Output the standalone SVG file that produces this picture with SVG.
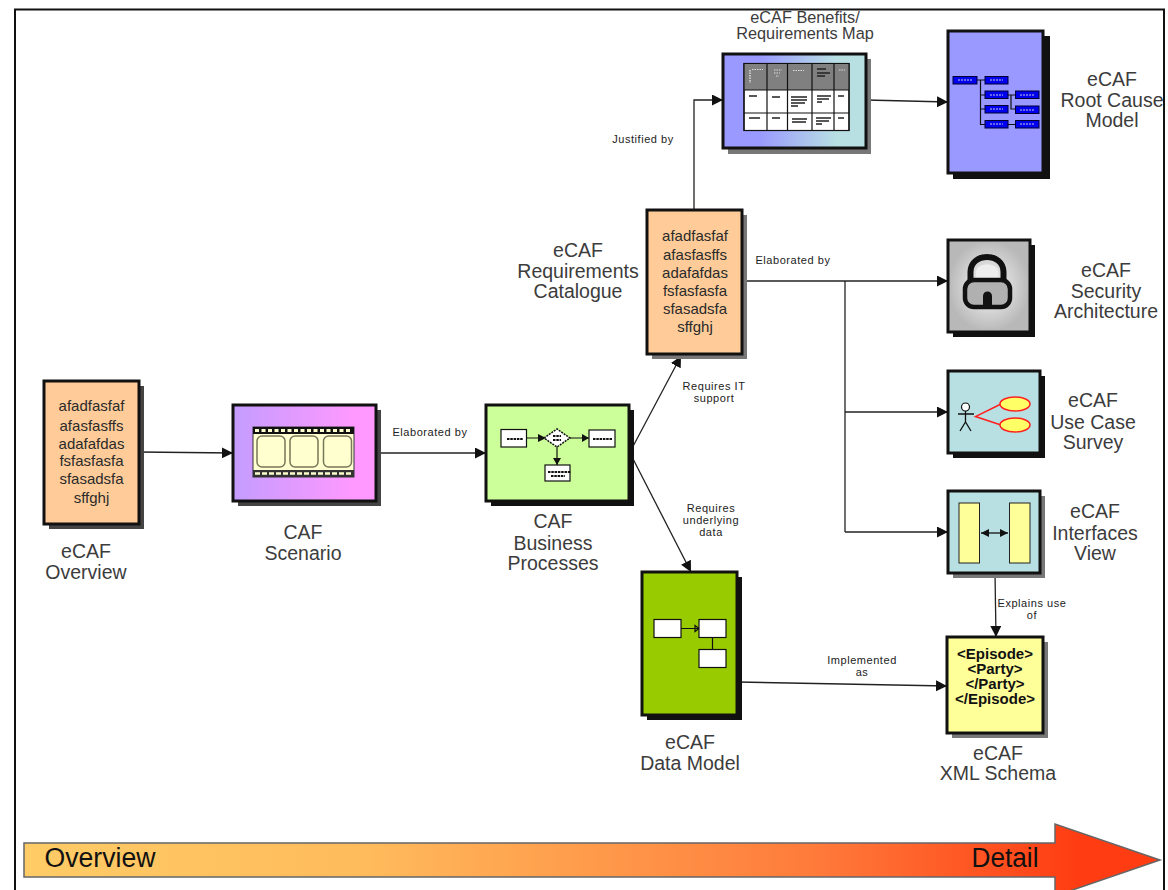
<svg xmlns="http://www.w3.org/2000/svg" width="1168" height="890" viewBox="0 0 1168 890">
<style>
text{font-family:"Liberation Sans",Arial,sans-serif;text-anchor:middle}
.big{font-size:19.5px;fill:#3c3c3c}
.sub{font-size:16.3px;fill:#3c3c3c}
.sm{font-size:11px;fill:#222;letter-spacing:.55px}
.nt{font-size:15px;fill:#2a2a2a}
.xml{font-size:15px;font-weight:bold;fill:#111}
.box{stroke:#111;stroke-width:3}
.sd{fill:#111}.sg{fill:#777}.sm2{fill:#444}
.c{fill:none;stroke:#222;stroke-width:1.3}
.ca{fill:none;stroke:#222;stroke-width:1.3;marker-end:url(#ah)}
.w{fill:#fff;stroke:#111;stroke-width:1.2}
.bb{fill:#0000ee;stroke:#000033;stroke-width:1}
.bl{fill:none;stroke:#111;stroke-width:1.2}
.film{fill:#ffffd0;stroke:#77775a;stroke-width:1.5}
.uc{fill:#ffff66;stroke:#ff2020;stroke-width:1.5}
</style>
<defs>
<marker id="ah" markerUnits="userSpaceOnUse" markerWidth="12" markerHeight="12" refX="11" refY="5.5" orient="auto"><path d="M0 0L11 5.5L0 11Z" fill="#111"/></marker>
<marker id="ah2" markerUnits="userSpaceOnUse" markerWidth="10" markerHeight="10" refX="8" refY="4" orient="auto-start-reverse"><path d="M0 0L8 4L0 8Z" fill="#111"/></marker>
<linearGradient id="gb"><stop offset="0.25" stop-color="#9999ff"/><stop offset="0.8" stop-color="#b8e0e3"/></linearGradient>
<linearGradient id="gs"><stop offset="0" stop-color="#c49cff"/><stop offset="0.85" stop-color="#ff99ff"/></linearGradient>
<radialGradient id="gl"><stop offset="0" stop-color="#fafafa"/><stop offset="1" stop-color="#b8b8b8"/></radialGradient>
<linearGradient id="ga"><stop offset="0" stop-color="#ffcc66"/><stop offset="0.3" stop-color="#ffbb5c"/><stop offset="0.7" stop-color="#ff7a3a"/><stop offset="0.93" stop-color="#ff3c12"/></linearGradient>
</defs>
<rect width="1168" height="890" fill="#fff"/>
<path d="M15 890V9.500H1164V890" fill="none" stroke="#111" stroke-width="2"/>

<g id="connectors">
<path class="ca" d="M139 452L233 453"/>
<path class="ca" d="M376 453H486"/>
<path class="ca" d="M630 452L681 356"/>
<path class="ca" d="M630 453L691 572"/>
<path class="ca" d="M694 210V100H723"/>
<path class="ca" d="M866 100L948 102"/>
<path class="ca" d="M742 281H948"/>
<path class="c" d="M845 281V532"/>
<path class="ca" d="M845 412H948"/>
<path class="ca" d="M845 532H948"/>
<path class="ca" d="M995 573L996 637"/>
<path class="ca" d="M737 682L947 686"/>
<text class="sm" x="430" y="436">Elaborated by</text>
<text class="sm" x="643" y="143">Justified by</text>
<text class="sm" x="793" y="264">Elaborated by</text>
<text class="sm" x="714" y="390">Requires IT</text>
<text class="sm" x="714" y="402">support</text>
<text class="sm" x="711" y="512">Requires</text>
<text class="sm" x="711" y="524">underlying</text>
<text class="sm" x="711" y="536">data</text>
<text class="sm" x="862" y="664">Implemented</text>
<text class="sm" x="862" y="676">as</text>
<text class="sm" x="1032" y="607">Explains use</text>
<text class="sm" x="1032" y="619">of</text>
</g>

<g id="overview">
<rect class="sm2" x="49" y="386" width="95" height="143"/>
<rect class="box" x="44" y="381" width="95" height="143" fill="#ffcc99"/>
<text class="nt" x="91.500" y="411">afadfasfaf</text><text class="nt" x="91.500" y="431">afasfasffs</text><text class="nt" x="91.500" y="449">adafafdas</text><text class="nt" x="91.500" y="466">fsfasfasfa</text><text class="nt" x="91.500" y="484">sfasadsfa</text><text class="nt" x="91.500" y="503">sffghj</text>
<text class="big" x="86" y="558">eCAF</text><text class="big" x="86" y="579">Overview</text>
</g>

<g id="scenario">
<rect class="sm2" x="238" y="410" width="143" height="96"/>
<rect class="box" x="233" y="405" width="143" height="96" fill="url(#gs)"/>
<rect x="253" y="427" width="101" height="50" fill="#ffffd0" stroke="#333"/>
<rect x="253" y="427" width="101" height="7" fill="#111"/>
<path d="M255 430.500H352" stroke="#ffffd0" stroke-width="3" stroke-dasharray="4 2.500" fill="none"/>
<rect x="253" y="470" width="101" height="7" fill="#333"/>
<path d="M255 473.500H352" stroke="#ffffd0" stroke-width="2.500" stroke-dasharray="5 2" fill="none"/>
<rect class="film" x="257" y="436" width="28" height="31" rx="5"/>
<rect class="film" x="290" y="436" width="28" height="31" rx="5"/>
<rect class="film" x="323.500" y="436" width="28" height="31" rx="5"/>
<text class="big" x="303" y="539">CAF</text><text class="big" x="303" y="560">Scenario</text>
</g>

<g id="business-processes">
<rect class="sd" x="491" y="410" width="143" height="96"/>
<rect class="box" x="486" y="405" width="143" height="96" fill="#ccff99"/>
<path class="bl" d="M526 438H546M568 438H589M557 447V465" stroke-width="1.500"/>
<path d="M546 438l-8-4v8zM589 438l-7-4v8zM557 465l-4-7h8z" fill="#111"/>
<rect class="w" x="501" y="429.500" width="25.500" height="17.500"/>
<path d="M544 438L557 429L570 438L557 447Z" fill="#fff" stroke="#111" stroke-width="1.500" stroke-dasharray="2 1"/>
<rect class="w" x="589" y="430" width="26" height="17"/>
<rect class="w" x="545" y="465" width="25" height="16"/>
<path d="M507 439H523M593 439H612M548 472H571M551 476H565M553 436H561M553 440H561" stroke="#111" stroke-width="2" stroke-dasharray="2.500 .8"/>
<text class="big" x="553" y="528">CAF</text><text class="big" x="553" y="550">Business</text><text class="big" x="553" y="570">Processes</text>
</g>

<g id="requirements-catalogue">
<rect class="sg" x="652" y="215" width="95" height="144"/>
<rect class="box" x="647" y="210" width="95" height="144" fill="#ffcc99"/>
<text class="nt" x="695" y="241">afadfasfaf</text><text class="nt" x="695" y="260">afasfasffs</text><text class="nt" x="695" y="278">adafafdas</text><text class="nt" x="695" y="296">fsfasfasfa</text><text class="nt" x="695" y="314">sfasadsfa</text><text class="nt" x="695" y="332">sffghj</text>
<text class="big" x="578" y="257">eCAF</text><text class="big" x="578" y="278">Requirements</text><text class="big" x="578" y="298">Catalogue</text>
</g>

<g id="benefits-map">
<rect class="sg" x="728" y="59" width="143" height="95"/>
<rect class="box" x="723" y="54" width="143" height="94" fill="url(#gb)"/>
<rect x="744" y="63.500" width="105" height="67" fill="#fff" stroke="#111" stroke-width="1.200"/>
<rect x="744" y="63.500" width="105" height="26.500" fill="#808080"/>
<path class="bl" d="M744 63.500H849V130.500H744ZM744 90H849M744 113H849M767 63.500V130.500M787.500 63.500V130.500M812 63.500V130.500M834 63.500V130.500"/>
<path d="M750 70V83" stroke="#ddd" stroke-width="1.500" stroke-dasharray="1.500 1" fill="none"/>
<path d="M752 69.500H763M774 70H782M774 73H780M776 76H779M793 70.500H804M839 70H845" stroke="#ddd" stroke-width="1" stroke-dasharray="1.500 1" fill="none"/>
<path d="M817 69H826M817 73H830M817 76H825M749 96H757M772 97H780M791 97H807M791 100H807M791 103H805M791 106H798M817 96H831M817 99H829M817 102H822M838 96H844M749 118H760M772 118H780M792 119H807M792 122H806M816 118H831M816 121H829M816 124H822M838 118H844" stroke="#222" stroke-width="1.300" fill="none"/>
<text class="sub" x="805" y="23">eCAF Benefits/</text><text class="sub" x="805" y="39">Requirements Map</text>
</g>

<g id="root-cause">
<rect class="sd" x="953" y="36" width="97" height="143"/>
<rect class="box" x="948" y="31" width="95" height="142" fill="#9999ff"/>
<path class="bl" d="M977 80H985M980.500 80V124.500H985M980.500 95H985M980.500 109H985M1008 95H1015M1011 95V109H1015M1008 124.500H1015"/>
<rect class="bb" x="953" y="76.500" width="24" height="7.500"/><rect class="bb" x="985" y="76.500" width="23" height="7.500"/><rect class="bb" x="985" y="91" width="23" height="7.500"/><rect class="bb" x="985" y="105.500" width="23" height="7.500"/><rect class="bb" x="985" y="120.500" width="23" height="7.500"/><rect class="bb" x="1015.500" y="91" width="23.500" height="7.500"/><rect class="bb" x="1015.500" y="106" width="23.500" height="7.500"/><rect class="bb" x="1015.500" y="120.500" width="23.500" height="7.500"/>
<path d="M958 80H972M990 80H1003M990 95H1003M990 109H1003M990 124H1003M1020 95H1034M1020 110H1034M1020 124H1034" stroke="#ccd" stroke-width="1" stroke-dasharray="2 1" fill="none"/>
<text class="big" x="1112" y="86">eCAF</text><text class="big" x="1112" y="107">Root Cause</text><text class="big" x="1112" y="127">Model</text>
</g>

<g id="security">
<rect class="sd" x="953" y="245" width="82" height="92"/>
<rect class="box" x="948" y="240" width="82" height="92" fill="url(#gl)"/>
<path d="M970.500 281V272C970.500 252 1003.500 252 1003.500 272V281" fill="none" stroke="#111" stroke-width="6"/>
<path d="M976 281V272C976 262 998 262 998 272V281Z" fill="#eee"/>
<rect x="965" y="280" width="45" height="27" rx="9" fill="#b0b0b0" stroke="#111" stroke-width="4.500"/>
<path d="M983 305V296a4.500 4.500 0 0 1 9 0V305Z" fill="#111"/>
<text class="big" x="1106" y="277">eCAF</text><text class="big" x="1106" y="298">Security</text><text class="big" x="1106" y="318">Architecture</text>
</g>

<g id="use-case">
<rect class="sd" x="953" y="376" width="92" height="82"/>
<rect class="box" x="948" y="371" width="92" height="82" fill="#b8e0e3"/>
<path d="M1001 404L975.500 416.500L1001 425" fill="none" stroke="#ff2020" stroke-width="1.500"/>
<ellipse class="uc" cx="1015" cy="404" rx="15" ry="7"/><ellipse class="uc" cx="1015" cy="425" rx="15" ry="7"/>
<circle cx="965.500" cy="407" r="4" fill="#fff" stroke="#111" stroke-width="1.200"/>
<path d="M965.500 411V422M958 414H974M960 431L965.500 422L971 431" fill="none" stroke="#111" stroke-width="1.300"/>
<text class="big" x="1093" y="407">eCAF</text><text class="big" x="1093" y="429">Use Case</text><text class="big" x="1093" y="449">Survey</text>
</g>

<g id="interfaces">
<rect class="sg" x="953" y="496" width="92" height="82"/>
<rect class="box" x="948" y="491" width="92" height="82" fill="#b8e0e3"/>
<rect x="959" y="503" width="20.500" height="60" fill="#ffff99" stroke="#222" stroke-width="1"/>
<rect x="1009.500" y="503" width="20.500" height="60" fill="#ffff99" stroke="#222" stroke-width="1"/>
<path d="M981 533H1008" stroke="#111" stroke-width="1.300" fill="none" marker-start="url(#ah2)" marker-end="url(#ah2)"/>
<text class="big" x="1095" y="518">eCAF</text><text class="big" x="1095" y="540">Interfaces</text><text class="big" x="1095" y="560">View</text>
</g>

<g id="data-model">
<rect class="sd" x="647" y="577" width="95" height="143"/>
<rect class="box" x="642" y="572" width="95" height="143" fill="#99cc00"/>
<path class="bl" d="M681 628.500H699M712.500 637V649M699 628.500l-4-3v6z"/>
<rect class="w" x="654" y="619.500" width="27" height="18"/><rect class="w" x="699" y="619.500" width="27" height="18"/><rect class="w" x="699" y="649.500" width="27" height="18"/>
<text class="big" x="690" y="749">eCAF</text><text class="big" x="690" y="770">Data Model</text>
</g>

<g id="xml-schema">
<rect class="sg" x="952" y="642" width="96" height="96"/>
<rect class="box" x="947" y="637" width="96" height="96" fill="#ffff99"/>
<text class="xml" x="995" y="659">&lt;Episode&gt;</text><text class="xml" x="995" y="674">&lt;Party&gt;</text><text class="xml" x="995" y="689">&lt;/Party&gt;</text><text class="xml" x="995" y="704">&lt;/Episode&gt;</text>
<text class="big" x="998" y="760">eCAF</text><text class="big" x="998" y="780">XML Schema</text>
</g>

<g id="overview-detail-arrow">
<path d="M24 843H1055V824L1160 860L1055 896V877H24Z" fill="url(#ga)" stroke="#666" stroke-width="1.500"/>
<text x="100" y="867" font-size="27" fill="#111" textLength="111" lengthAdjust="spacingAndGlyphs">Overview</text>
<text x="1005" y="867" font-size="27" fill="#111" textLength="67" lengthAdjust="spacingAndGlyphs">Detail</text>
</g>
</svg>
